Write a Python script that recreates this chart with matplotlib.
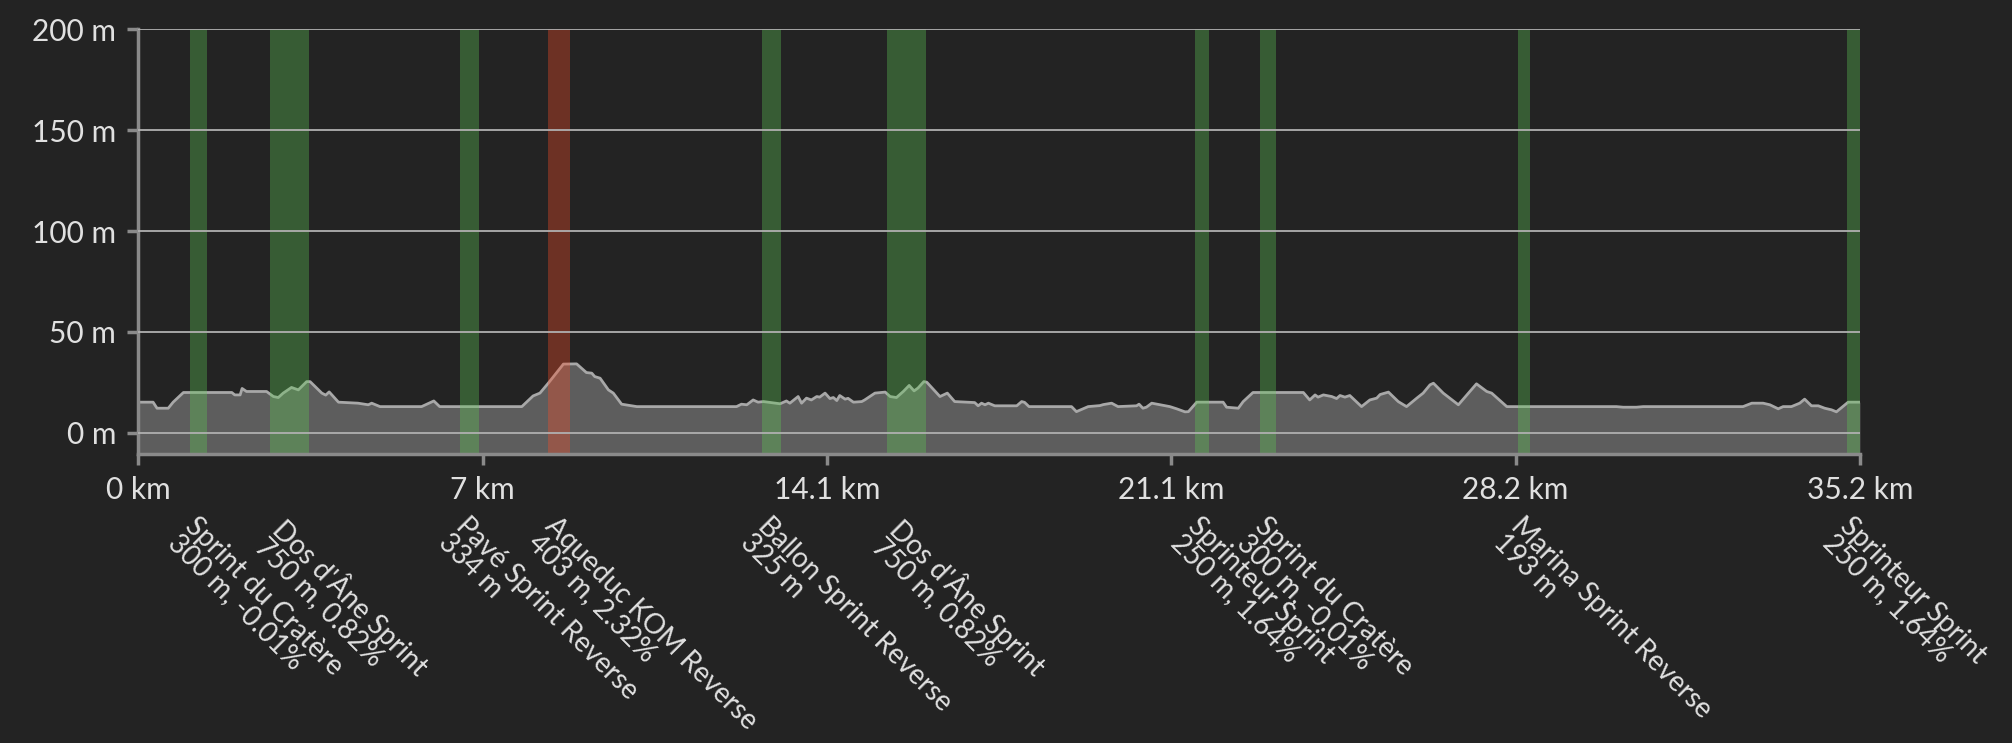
import matplotlib
matplotlib.use("Agg")
import matplotlib.pyplot as plt
import numpy as np

plt.rcParams['font.family'] = ['Lato', 'DejaVu Sans']

# elevation profile (km, m)
dist_km = [0.0, 0.30, 0.38, 0.61, 0.71, 0.92, 1.91, 1.97, 2.08, 2.12, 2.21, 2.62, 2.76, 2.86, 2.96,
           3.13, 3.27, 3.44, 3.51, 3.75, 3.83, 3.90, 4.09, 4.49, 4.70, 4.77, 4.94, 5.79, 6.04, 6.16,
           7.84, 8.07, 8.21, 8.38, 8.69, 8.96, 9.16, 9.27, 9.33, 9.44, 9.61, 9.71, 9.88, 10.19,
           12.23, 12.33, 12.44, 12.57, 12.67, 12.78, 13.12, 13.25, 13.32, 13.49, 13.56, 13.66, 13.76,
           13.87, 13.93, 14.04, 14.14, 14.21, 14.28, 14.34, 14.45, 14.51, 14.62, 14.79, 14.85, 15.06,
           15.27, 15.37, 15.50, 15.64, 15.76, 15.86, 15.94, 16.06, 16.12, 16.39, 16.54, 16.69, 17.10,
           17.17, 17.24, 17.31, 17.38, 17.51, 17.96, 18.06, 18.12, 18.21, 19.08, 19.18, 19.42, 19.66,
           19.73, 19.90, 20.03, 20.41, 20.46, 20.54, 20.61, 20.72, 20.89, 21.09, 21.23, 21.40, 21.47,
           21.64, 22.18, 22.25, 22.49, 22.59, 22.79, 23.82, 23.95, 24.06, 24.12, 24.23, 24.40, 24.50,
           24.57, 24.67, 24.77, 25.01, 25.18, 25.32, 25.39, 25.56, 25.76, 25.93, 26.14, 26.27, 26.41,
           26.48, 26.68, 26.99, 27.36, 27.57, 27.67, 27.98, 30.22, 30.36, 30.63, 30.77, 32.81, 32.99,
           33.22, 33.36, 33.53, 33.63, 33.80, 33.97, 34.07, 34.21, 34.35, 34.48, 34.62, 34.72, 34.96,
           35.2]
elev_m = [15.1, 15.1, 12.1, 12.1, 15.1, 19.9, 19.9, 18.7, 18.7, 21.9, 20.4, 20.4, 17.9, 17.4, 19.6,
          22.4, 21.2, 25.3, 25.3, 19.6, 18.6, 20.2, 15.1, 14.6, 13.8, 14.6, 12.9, 12.9, 15.7, 12.9,
          12.9, 18.2, 19.6, 24.5, 34.0, 34.1, 29.8, 29.5, 27.8, 27.0, 21.2, 19.6, 14.1, 12.9,
          12.9, 14.1, 13.8, 16.2, 15.1, 15.4, 14.3, 15.7, 14.6, 17.9, 14.6, 17.1, 16.2,
          17.9, 17.6, 19.6, 16.9, 17.4, 15.9, 18.4, 16.6, 17.0, 15.1, 15.4, 16.2, 19.6,
          20.1, 17.9, 17.4, 20.4, 23.4, 20.7, 22.1, 25.3, 25.0, 17.9, 19.6, 15.4, 14.9,
          13.3, 14.6, 13.8, 14.6, 13.3, 13.3, 15.4, 15.0, 12.9, 12.9, 10.4, 12.9, 13.4,
          13.9, 14.6, 12.9, 13.3, 14.1, 12.1, 12.6, 14.6, 13.8, 12.9, 11.8, 10.3, 10.4,
          15.1, 15.1, 12.6, 12.1, 15.4, 19.9, 19.9, 16.2, 18.7, 17.6, 18.7, 17.9, 16.9,
          18.4, 17.6, 18.4, 12.9, 16.2, 17.1, 18.9, 20.1, 15.4, 12.9, 17.1, 19.6, 23.7,
          24.5, 19.6, 13.8, 24.2, 20.4, 19.6, 12.9, 12.9, 12.6, 12.6, 12.9, 12.9, 14.6,
          14.6, 13.8, 11.8, 12.9, 12.9, 14.6, 16.6, 13.3, 13.3, 12.1, 11.3, 10.3, 15.1,
          15.1]

# segments
seg_start = [1.05, 2.69, 6.57, 8.37, 12.76, 15.31, 21.60, 22.93, 28.21, 34.94]
seg_end = [1.41, 3.49, 6.96, 8.82, 13.13, 16.10, 21.89, 23.27, 28.45, 35.20]
seg_kind = ['sprint', 'sprint', 'sprint', 'kom', 'sprint', 'sprint', 'sprint', 'sprint', 'sprint', 'sprint']
seg_labels = ["Sprint du Cratère\n300 m, -0.01%",
              "Dos d'Âne Sprint\n750 m, 0.82%",
              "Pavé Sprint Reverse\n334 m",
              "Aqueduc KOM Reverse\n403 m, 2.32%",
              "Ballon Sprint Reverse\n325 m",
              "Dos d'Âne Sprint\n750 m, 0.82%",
              "Sprinteur Sprint\n250 m, 1.64%",
              "Sprint du Cratère\n300 m, -0.01%",
              "Marina Sprint Reverse\n193 m",
              "Sprinteur Sprint\n250 m, 1.64%"]

total_km = 35.2
y_ticks = [0, 50, 100, 150, 200]

bg = '#232323'
txt = '#e0e0e0'
axis_col = '#8a8a8a'
kind_col = {'sprint': '#5ec854', 'kom': '#fa4e28'}

fig = plt.figure(figsize=(20.12, 7.43), dpi=100, facecolor=bg)
ax = fig.add_axes([0.0688, 0.389, 0.8556, 0.5713])
ax.set_facecolor(bg)

ymin = -10.6
ax.fill_between(dist_km, elev_m, ymin, color='#5d5d5d', lw=0, zorder=1)
ax.plot(dist_km, elev_m, color='#a8a8a8', lw=2, zorder=1.5)

for s, e, k in zip(seg_start, seg_end, seg_kind):
    ax.axvspan(s, e, color=kind_col[k], alpha=0.35, lw=0, zorder=2)

ax.set_xlim(0, total_km)
ax.set_ylim(ymin, 200)

for y in y_ticks:
    ax.axhline(y, color='#b0b0b0', lw=1.3, zorder=2.6)

x_ticks = np.linspace(0, total_km, 6)
ax.set_xticks(x_ticks)
ax.set_xticklabels([("%.1f" % v).rstrip('0').rstrip('.') + " km" for v in x_ticks])
ax.set_yticks(y_ticks)
ax.set_yticklabels(["%d m" % v for v in y_ticks])

for sp in ['top', 'right']:
    ax.spines[sp].set_visible(False)
for sp in ['left', 'bottom']:
    ax.spines[sp].set_color(axis_col)
    ax.spines[sp].set_linewidth(2.5)

ax.tick_params(axis='both', colors=axis_col, labelcolor=txt, labelsize=21.5, width=2.5, length=8)
ax.tick_params(axis='y', pad=8)
ax.tick_params(axis='x', pad=8)

for s, e, lab in zip(seg_start, seg_end, seg_labels):
    ax.annotate(lab, xy=((s + e) / 2, 0), xycoords=('data', 'axes fraction'),
                xytext=(0, -42), textcoords='offset points',
                rotation=-45, rotation_mode='anchor', ha='left', va='top',
                fontsize=20, color=txt, linespacing=0.92)

fig.savefig('out.png', dpi=100, facecolor=bg)
